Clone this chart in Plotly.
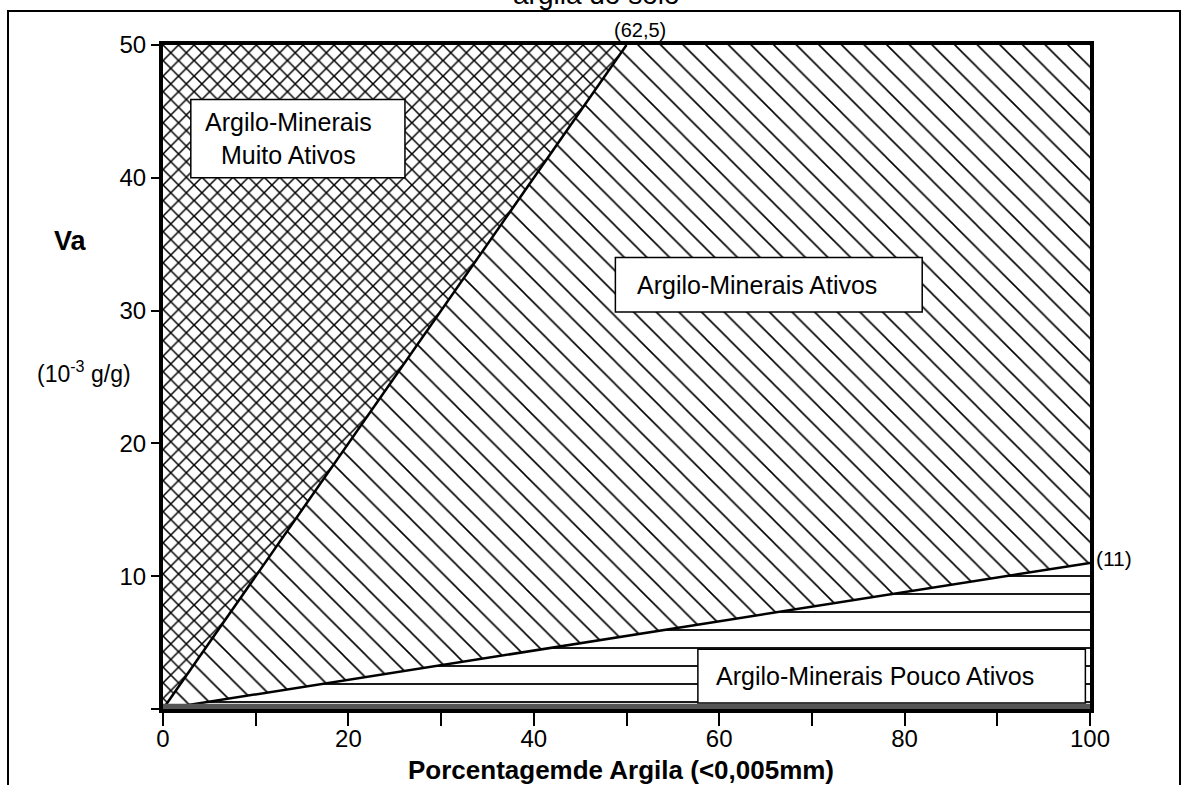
import plotly.graph_objects as go

# ---- data ----
MUITO_X = [0, 50, 0]
MUITO_Y = [0, 50, 50]
ATIVO_X = [0, 100, 100, 50]
ATIVO_Y = [0, 11, 50, 50]
POUCO_X = [0, 100, 100]
POUCO_Y = [0, 0, 11]
STEEP_X = [0, 50]
STEEP_Y = [0, 50]
LOW_X = [0, 100]
LOW_Y = [0, 11]

X_TICKS = [0, 20, 40, 60, 80, 100]
Y_TICKS = [0, 10, 20, 30, 40, 50]
Y_TICKTEXT = ["", "10", "20", "30", "40", "50"]

LABEL_TEXTS = ["Argilo-Minerais<br>Muito Ativos", "Argilo-Minerais Ativos", "Argilo-Minerais Pouco Ativos"]
LABEL_BOX_X0 = [3.0, 48.8, 57.7]
LABEL_BOX_X1 = [26.1, 81.9, 99.5]
LABEL_BOX_Y0 = [40.0, 29.9, 0.45]
LABEL_BOX_Y1 = [45.9, 34.0, 4.5]

FONT = "Liberation Sans, Arial, sans-serif"

fig = go.Figure()

fig.add_trace(go.Scatter(
    x=MUITO_X, y=MUITO_Y, fill="toself", mode="none",
    fillcolor="white",
    fillpattern=dict(shape="x", size=11, solidity=0.26, fgcolor="black", fgopacity=1,
                     bgcolor="white"),
    hoverinfo="skip", showlegend=False))
fig.add_trace(go.Scatter(
    x=ATIVO_X, y=ATIVO_Y, fill="toself", mode="none",
    fillcolor="white",
    fillpattern=dict(shape="\\", size=16, solidity=0.1, fgcolor="black", fgopacity=1,
                     bgcolor="white"),
    hoverinfo="skip", showlegend=False))
fig.add_trace(go.Scatter(
    x=POUCO_X, y=POUCO_Y, fill="toself", mode="none",
    fillcolor="white",
    fillpattern=dict(shape="-", size=18, solidity=0.1, fgcolor="black", fgopacity=1,
                     bgcolor="white"),
    hoverinfo="skip", showlegend=False))

for lx, ly in [(STEEP_X, STEEP_Y), (LOW_X, LOW_Y)]:
    fig.add_trace(go.Scatter(x=lx, y=ly, mode="lines",
                             line=dict(color="black", width=2.5),
                             hoverinfo="skip", showlegend=False))

shapes = []
# dark band along the bottom axis
shapes.append(dict(type="rect", xref="x", yref="y", x0=0, x1=100, y0=0, y1=0.4,
                   fillcolor="#555555", line=dict(width=0), layer="above"))
for i in range(len(LABEL_TEXTS)):
    shapes.append(dict(type="rect", xref="x", yref="y",
                       x0=LABEL_BOX_X0[i], x1=LABEL_BOX_X1[i],
                       y0=LABEL_BOX_Y0[i], y1=LABEL_BOX_Y1[i],
                       fillcolor="white", line=dict(color="black", width=1.5), layer="above"))
# outer frame of the figure
shapes.append(dict(type="rect", xref="paper", yref="paper", x0=-0.1672, x1=1.0971,
                   y0=-0.3, y1=1.0512, line=dict(color="black", width=2), fillcolor="rgba(0,0,0,0)"))

annotations = []
# texts inside boxes
annotations.append(dict(x=(LABEL_BOX_X0[0] + LABEL_BOX_X1[0]) / 2 - 1.0,
                        y=(LABEL_BOX_Y0[0] + LABEL_BOX_Y1[0]) / 2,
                        xref="x", yref="y", text=LABEL_TEXTS[0], showarrow=False,
                        align="center", xanchor="center", yanchor="middle",
                        font=dict(family=FONT, size=25, color="black")))
annotations.append(dict(x=LABEL_BOX_X0[1] + 2.1, y=(LABEL_BOX_Y0[1] + LABEL_BOX_Y1[1]) / 2,
                        xref="x", yref="y", text=LABEL_TEXTS[1], showarrow=False,
                        xanchor="left", yanchor="middle",
                        font=dict(family=FONT, size=25, color="black")))
annotations.append(dict(x=LABEL_BOX_X0[2] + 1.7, y=(LABEL_BOX_Y0[2] + LABEL_BOX_Y1[2]) / 2,
                        xref="x", yref="y", text=LABEL_TEXTS[2], showarrow=False,
                        xanchor="left", yanchor="middle",
                        font=dict(family=FONT, size=25, color="black")))
# point labels
annotations.append(dict(x=51.5, y=50, xref="x", yref="y", text="(62,5)", showarrow=False,
                        xanchor="center", yanchor="bottom", yshift=2,
                        font=dict(family=FONT, size=20, color="black")))
annotations.append(dict(x=100, y=11, xref="x", yref="y", text="(11)", showarrow=False,
                        xanchor="left", yanchor="middle", xshift=4, yshift=4,
                        font=dict(family=FONT, size=21, color="black")))
# axis titles
annotations.append(dict(x=-0.1, y=0.705, xref="paper", yref="paper", text="<b>Va</b>",
                        showarrow=False, xanchor="center", yanchor="middle",
                        font=dict(family=FONT, size=27, color="black")))
annotations.append(dict(x=-0.085, y=0.508, xref="paper", yref="paper",
                        text="(10<sup>-3</sup> g/g)",
                        showarrow=False, xanchor="center", yanchor="middle",
                        font=dict(family=FONT, size=23, color="black")))
annotations.append(dict(x=0.494, y=-0.066, xref="paper", yref="paper",
                        text="<b>Porcentagemde Argila (<0,005mm)</b>",
                        showarrow=False, xanchor="center", yanchor="top",
                        font=dict(family=FONT, size=26, color="black")))
# clipped caption at the very top
annotations.append(dict(x=0.468, y=1.05, xref="paper", yref="paper",
                        text="argila do solo", showarrow=False,
                        xanchor="center", yanchor="bottom",
                        font=dict(family=FONT, size=28, color="black")))

fig.update_layout(
    width=1189, height=785,
    margin=dict(l=163, r=99, t=45, b=76),
    paper_bgcolor="white", plot_bgcolor="white",
    shapes=shapes, annotations=annotations,
    xaxis=dict(range=[0, 100], tickvals=X_TICKS, ticks="outside", ticklen=5, tickwidth=2,
               tickcolor="black", showline=True, linewidth=4, linecolor="black", mirror=True,
               showgrid=False, zeroline=False,
               tickfont=dict(family=FONT, size=24, color="black"),
               minor=dict(dtick=10, ticks="outside", ticklen=13, tickwidth=2, tickcolor="black")),
    yaxis=dict(range=[0, 50], tickvals=Y_TICKS, ticktext=Y_TICKTEXT, ticks="outside",
               ticklen=8, tickwidth=2, tickcolor="black", showline=True, linewidth=4,
               linecolor="black", mirror=True, showgrid=False, zeroline=False,
               tickfont=dict(family=FONT, size=24, color="black")),
)

fig.write_html("out.html", config={"displayModeBar": False},
               post_script="document.body.style.margin='0px';document.body.style.overflow='hidden';")
